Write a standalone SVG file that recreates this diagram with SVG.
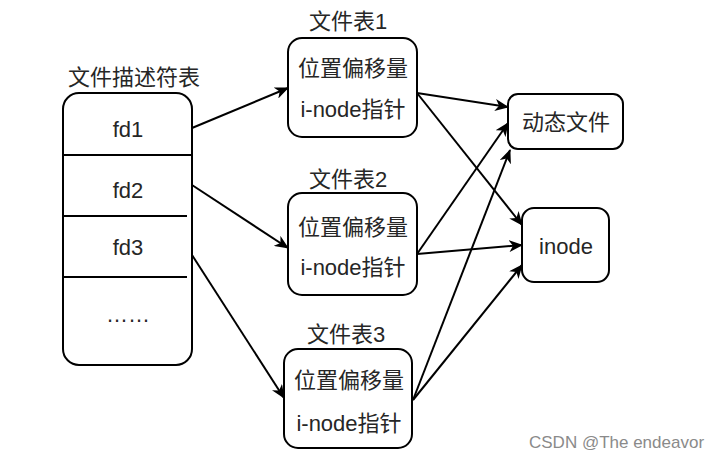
<svg xmlns="http://www.w3.org/2000/svg" width="717" height="459" viewBox="0 0 717 459">
<style>
.box{fill:#fff;stroke:#000;stroke-width:2}
.t{font-family:"Liberation Sans","Noto Sans CJK SC",sans-serif;font-size:22px;fill:#262626;text-anchor:middle}
.c{fill:none;stroke:#000;stroke-width:2;marker-end:url(#ah)}
.wm{font-family:"Liberation Sans","Noto Sans CJK SC",sans-serif;font-size:17px;fill:#8a8a8a}
</style>
<defs>
<marker id="ah" markerWidth="14" markerHeight="12" viewBox="0 0 14 12" refX="13" refY="6" orient="auto" markerUnits="userSpaceOnUse">
<path d="M0,0 L14,6 L0,12 L4,6 Z" fill="#000"/>
</marker>
</defs>
<rect width="717" height="459" fill="#fff"/>
<g id="fdtable">
<text class="t" x="134" y="85">文件描述符表</text>
<rect class="box" x="63" y="93" width="129" height="272" rx="16"/>
<line x1="63" y1="155" x2="192" y2="155" stroke="#000" stroke-width="2"/>
<line x1="63" y1="216" x2="187" y2="216" stroke="#000" stroke-width="2"/>
<line x1="63" y1="277" x2="187" y2="277" stroke="#000" stroke-width="2"/>
<text class="t" x="128" y="137">fd1</text>
<text class="t" x="128" y="198">fd2</text>
<text class="t" x="128" y="255">fd3</text>
<text class="t" x="128" y="322">……</text>
</g>
<g id="ft1">
<text class="t" x="348" y="29">文件表1</text>
<rect class="box" x="288" y="38" width="129" height="99" rx="14"/>
<text class="t" x="353" y="76">位置偏移量</text>
<text class="t" x="353" y="117">i-node指针</text>
</g>
<g id="ft2">
<text class="t" x="348" y="187">文件表2</text>
<rect class="box" x="288" y="193" width="129" height="102" rx="14"/>
<text class="t" x="353" y="235">位置偏移量</text>
<text class="t" x="353" y="275">i-node指针</text>
</g>
<g id="ft3">
<text class="t" x="346" y="342">文件表3</text>
<rect class="box" x="284" y="349" width="128" height="99" rx="14"/>
<text class="t" x="349" y="388">位置偏移量</text>
<text class="t" x="349" y="431">i-node指针</text>
</g>
<g id="dyn">
<rect class="box" x="508" y="94" width="115" height="55" rx="10"/>
<text class="t" x="566" y="130">动态文件</text>
</g>
<g id="inode">
<rect class="box" x="522" y="208" width="87" height="74" rx="12"/>
<text class="t" x="566" y="254">inode</text>
</g>
<g id="connectors">
<path class="c" d="M192,128 L288,88"/>
<path class="c" d="M192,185 L288,248"/>
<path class="c" d="M192,255 L284,398"/>
<path class="c" d="M417,93 L508,107"/>
<path class="c" d="M417,93 L522,225"/>
<path class="c" d="M417,254 L508,123"/>
<path class="c" d="M417,254 L522,245"/>
<path class="c" d="M413,400 L510,150"/>
<path class="c" d="M413,400 L522,265"/>
</g>
<text class="wm" x="529" y="448">CSDN @The endeavor</text>
</svg>
